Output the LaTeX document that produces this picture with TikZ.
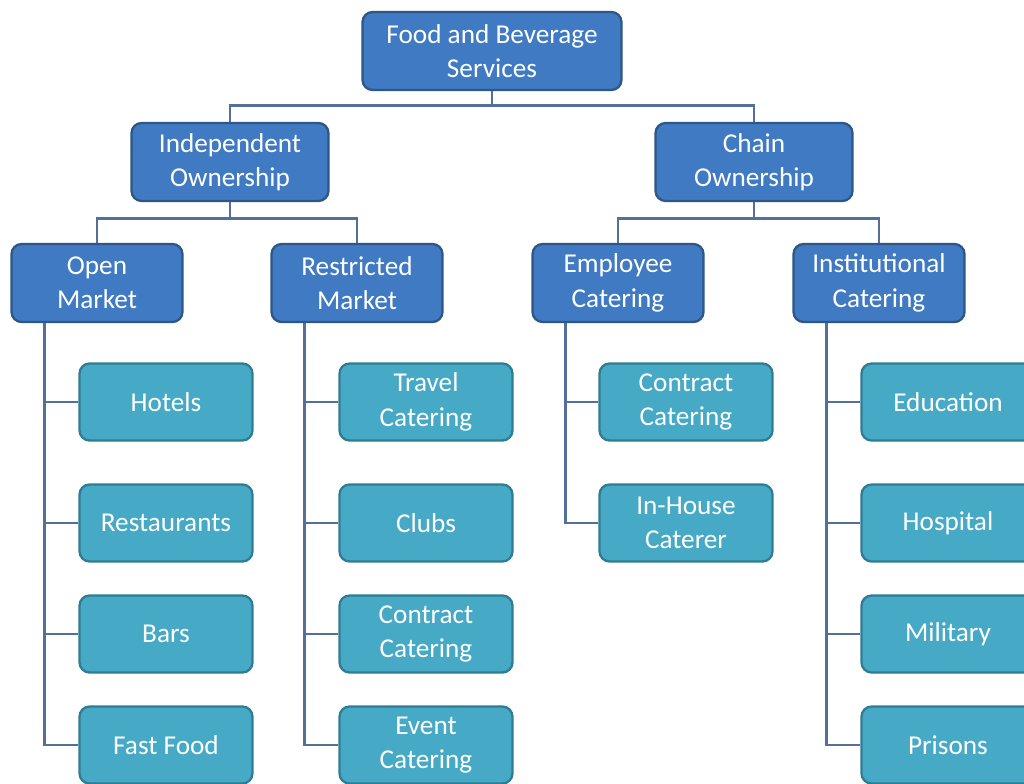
\documentclass[tikz,border=0pt]{standalone}
\usepackage{fontspec}
\setmainfont{Carlito}
\usetikzlibrary{positioning,calc}
\definecolor{headblue}{HTML}{3F7AC3}
\definecolor{headline}{HTML}{2E5687}
\definecolor{leafteal}{HTML}{46A9C5}
\definecolor{leafline}{HTML}{2F7D95}
\definecolor{wire}{HTML}{52709B}
\tikzset{
  head/.style={draw=headline,fill=headblue,line width=1.3pt,rounded corners=0.2cm,
    text=white,align=center,minimum height=1.56cm,inner sep=2pt,
    font=\fontsize{15.5}{19.5}\selectfont},
  leaf/.style={head,draw=leafline,fill=leafteal,minimum width=3.46cm,minimum height=1.54cm},
  wire/.style={draw=wire,line width=1.6pt}
}
\begin{document}
\begin{tikzpicture}[x=0.02cm,y=-0.02cm]
	\useasboundingbox (0,0) rectangle (1024,784);
	\fill[white] (0,0) rectangle (1024,784);
	% top levels
	\node[head,minimum width=5.18cm] (fb) at (492,51) {Food and Beverage\\Services};
	\node[head,minimum width=3.94cm] (ind) at (230,162) {Independent\\Ownership};
	\node[head,minimum width=3.94cm] (chn) at (754,162) {Chain\\Ownership};
	\node[head,minimum width=3.42cm] (om) at (97,283) {Open\\Market};
	\node[head,minimum width=3.42cm] (rm) at (357,283) {Restricted\\Market};
	\node[head,minimum width=3.42cm] (ec) at (618,283) {Employee\\Catering};
	\node[head,minimum width=3.42cm] (ic) at (879,283) {Institutional\\Catering};
	% leaves
	\node[leaf] (hot) at (166,402) {Hotels};
	\node[leaf] (res) at (166,523) {Restaurants};
	\node[leaf] (bar) at (166,634) {Bars};
	\node[leaf] (ff) at (166,745) {Fast Food};
	\node[leaf] (tc) at (426,402) {Travel\\Catering};
	\node[leaf] (clb) at (426,523) {Clubs};
	\node[leaf] (cc) at (426,634) {Contract\\Catering};
	\node[leaf] (evc) at (426,745) {Event\\Catering};
	\node[leaf] (ctc) at (686,402) {Contract\\Catering};
	\node[leaf] (ihc) at (686,523) {In-House\\Caterer};
	\node[leaf] (edu) at (948,402) {Education};
	\node[leaf] (hos) at (948,523) {Hospital};
	\node[leaf] (mil) at (948,634) {Military};
	\node[leaf] (pri) at (948,745) {Prisons};
	% connectors
	\foreach \t in {ind,chn}
		\draw[wire] (fb.south) -- ++(0,14) -| (\t.north);
	\foreach \t in {om,rm}
		\draw[wire] (ind.south) -- ++(0,16) -| (\t.north);
	\foreach \t in {ec,ic}
		\draw[wire] (chn.south) -- ++(0,16) -| (\t.north);
	\foreach \p/\l in {om/{hot,res,bar,ff},rm/{tc,clb,cc,evc},ec/{ctc,ihc},ic/{edu,hos,mil,pri}}{
		\coordinate (\p-x) at ($(\p.south west)+(34,0)$);
		\foreach \t in \l
			\draw[wire] (\p-x) |- (\t.west);
	}
\end{tikzpicture}
\end{document}
